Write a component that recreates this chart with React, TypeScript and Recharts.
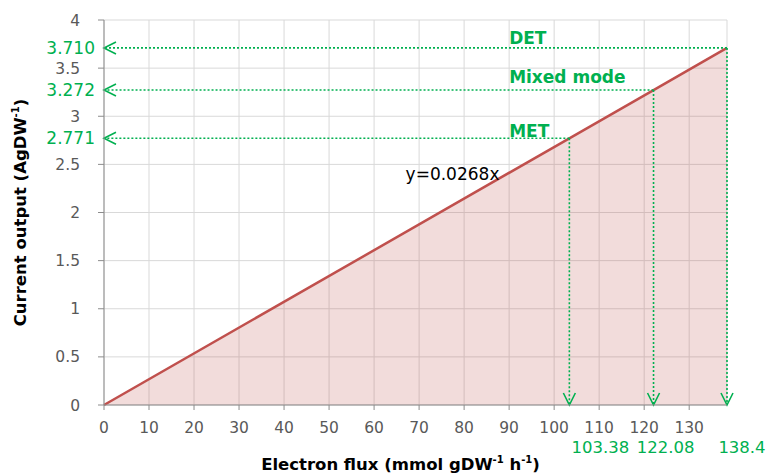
import {
  ComposedChart,
  Area,
  XAxis,
  YAxis,
  CartesianGrid,
  ReferenceLine,
  ReferenceDot,
} from "recharts";

// electron flux (mmol gDW-1 h-1) and current output (A gDW-1) along y = 0.0268x
const fluxValues = [0, 103.38, 122.08, 138.4];
const currentValues = [0, 2.771, 3.272, 3.71];

const modeNames = ["MET", "Mixed mode", "DET"];
const modeFlux = [103.38, 122.08, 138.4];
const modeCurrent = [2.771, 3.272, 3.71];
const modeCurrentText = ["2.771", "3.272", "3.710"];
const modeFluxText = ["103.38", "122.08", "138.4"];

const xTicks = [0, 10, 20, 30, 40, 50, 60, 70, 80, 90, 100, 110, 120, 130];
const yTicks = [0, 0.5, 1, 1.5, 2, 2.5, 3, 3.5, 4];

const equationText = "y=0.0268x";
const equationAt = { x: 67, y: 2.34 };
const modeLabelX = 90;

// hand placed offsets for the green value labels (as in the original)
const fluxLabelDx = [31, 12, 15];
const modeLabelDy = [-1, -7, -4];

const data = fluxValues.map((x, i) => ({ x, y: currentValues[i] }));

const GREEN = "#00b050";
const FONT = "'DejaVu Sans', sans-serif";

function DottedArrow(props: any) {
  const { x1, y1, x2, y2, text, textDx, vertical } = props;
  const len = Math.hypot(x2 - x1, y2 - y1) || 1;
  const ux = (x2 - x1) / len;
  const uy = (y2 - y1) / len;
  const L = 12;
  const W = 6;
  const bx = x2 - ux * L;
  const by = y2 - uy * L;
  return (
    <g>
      <line
        x1={x1}
        y1={y1}
        x2={x2}
        y2={y2}
        stroke={GREEN}
        strokeWidth={1.6}
        strokeDasharray="2 2"
      />
      <polyline
        points={`${bx - uy * W},${by + ux * W} ${x2},${y2} ${bx + uy * W},${by - ux * W}`}
        fill="none"
        stroke={GREEN}
        strokeWidth={1.6}
      />
      {vertical ? (
        <text
          x={x2 + textDx}
          y={y2 + 48}
          textAnchor="middle"
          fill={GREEN}
          fontSize={16.5}
          fontFamily={FONT}
        >
          {text}
        </text>
      ) : (
        <text
          x={x2 - 9}
          y={y2}
          dy="0.36em"
          textAnchor="end"
          fill={GREEN}
          fontSize={17}
          fontFamily={FONT}
        >
          {text}
        </text>
      )}
    </g>
  );
}

function XTitle(props: any) {
  const { viewBox } = props;
  return (
    <text
      x={viewBox.x + viewBox.width / 2 - 15}
      y={viewBox.y + 65}
      textAnchor="middle"
      fontSize={16.5}
      fontWeight="bold"
      fontFamily={FONT}
      fill="#000"
    >
      Electron flux (mmol gDW
      <tspan fontSize={10} dy={-7}>-1</tspan>
      <tspan dy={7}> h</tspan>
      <tspan fontSize={10} dy={-7}>-1</tspan>
      <tspan dy={7}>)</tspan>
    </text>
  );
}

function YTitle(props: any) {
  const { viewBox } = props;
  const cx = 20;
  const cy = viewBox.y + viewBox.height / 2;
  return (
    <text
      x={cx}
      y={cy}
      transform={`rotate(-90 ${cx} ${cy})`}
      textAnchor="middle"
      dy="0.35em"
      fontSize={16.5}
      fontWeight="bold"
      fontFamily={FONT}
      fill="#000"
    >
      Current output  (AgDW
      <tspan fontSize={10} dy={-7}>-1</tspan>
      <tspan dy={7}>)</tspan>
    </text>
  );
}

export default function App() {
  return (
    <div style={{ position: "absolute", left: 0, top: 0, background: "#fff" }}>
      <ComposedChart
        width={769}
        height={474}
        data={data}
        margin={{ top: 20, right: 42, bottom: 0, left: 0 }}
      >
        <CartesianGrid stroke="#d9d9d9" strokeWidth={1} />
        <XAxis
          type="number"
          dataKey="x"
          domain={[0, 138.4]}
          ticks={xTicks}
          height={69}
          tickSize={5}
          tickMargin={12}
          interval={0}
          stroke="#8c8c8c"
          tick={{ fill: "#595959", fontSize: 15.5, fontFamily: FONT }}
          label={{ content: <XTitle /> } as any}
        />
        <YAxis
          type="number"
          domain={[0, 4]}
          ticks={yTicks}
          width={104}
          tickSize={6}
          tickMargin={18}
          interval={0}
          stroke="#8c8c8c"
          tick={{ fill: "#595959", fontSize: 15.5, fontFamily: FONT }}
          label={{ content: <YTitle /> } as any}
        />
        <Area
          type="linear"
          dataKey="y"
          stroke="#c0504d"
          strokeWidth={2.5}
          fill="#c0504d"
          fillOpacity={0.2}
          dot={false}
          activeDot={false}
          isAnimationActive={false}
        />
        {modeFlux.map((fx, i) => (
          <ReferenceLine
            key={"h" + i}
            segment={[
              { x: fx, y: modeCurrent[i] },
              { x: 0, y: modeCurrent[i] },
            ]}
            shape={(p: any) => (
              <DottedArrow {...p} text={modeCurrentText[i]} />
            )}
          />
        ))}
        {modeFlux.map((fx, i) => (
          <ReferenceLine
            key={"v" + i}
            segment={[
              { x: fx, y: modeCurrent[i] },
              { x: fx, y: 0 },
            ]}
            shape={(p: any) => (
              <DottedArrow
                {...p}
                vertical
                text={modeFluxText[i]}
                textDx={fluxLabelDx[i]}
              />
            )}
          />
        ))}
        {modeNames.map((name, i) => (
          <ReferenceDot
            key={name}
            x={modeLabelX}
            y={modeCurrent[i]}
            r={0}
            shape={(p: any) => (
              <text
                x={p.cx}
                y={p.cy + modeLabelDy[i]}
                fill={GREEN}
                fontSize={17}
                fontWeight="bold"
                fontFamily={FONT}
              >
                {name}
              </text>
            )}
          />
        ))}
        <ReferenceDot
          x={equationAt.x}
          y={equationAt.y}
          r={0}
          shape={(p: any) => (
            <text
              x={p.cx}
              y={p.cy}
              fill="#000"
              fontSize={17}
              fontFamily={FONT}
            >
              {equationText}
            </text>
          )}
        />
      </ComposedChart>
    </div>
  );
}
